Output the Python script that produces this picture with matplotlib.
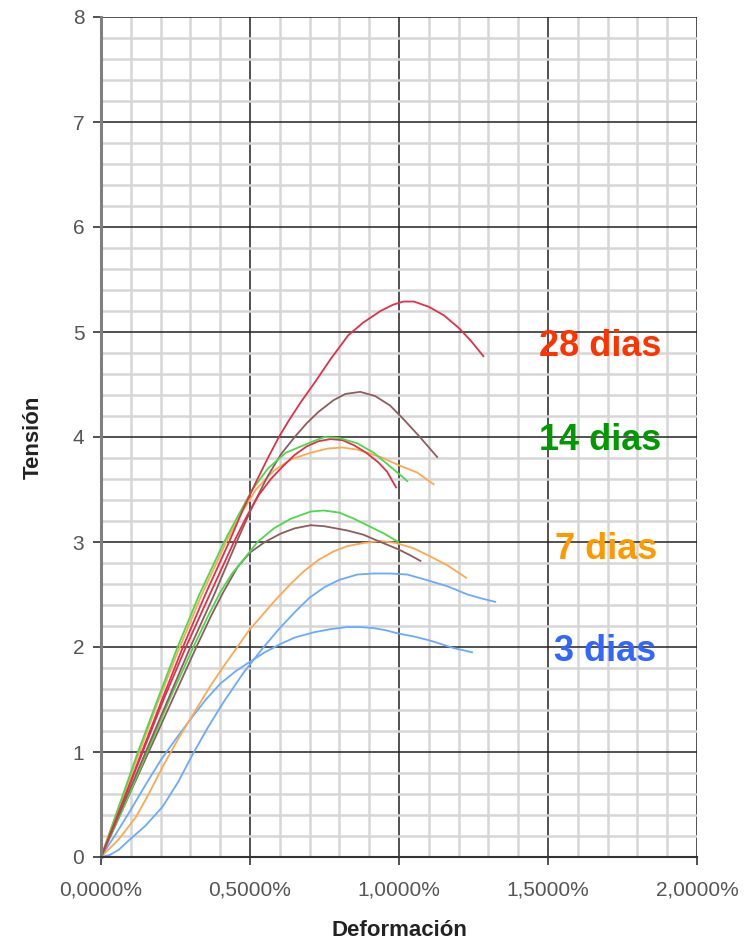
import numpy as np
import matplotlib
matplotlib.use("Agg")
import matplotlib.pyplot as plt
from matplotlib.ticker import MultipleLocator, FuncFormatter

plt.rcParams["font.family"] = ["Liberation Sans", "DejaVu Sans"]

# --- curves: deformation (%) vs tension ---
# 28 dias (red)
r1_x = [0, 0.07, 0.137, 0.205, 0.275, 0.35, 0.43, 0.475, 0.52, 0.56, 0.597, 0.631, 0.67, 0.72,
        0.77, 0.83, 0.88, 0.938, 0.98, 1.015, 1.05, 1.10, 1.15, 1.20, 1.24, 1.283]
r1_y = [0, 0.5, 1.0, 1.5, 2.0, 2.5, 3.0, 3.3, 3.57, 3.8, 4.0, 4.16, 4.33, 4.53,
        4.74, 4.97, 5.09, 5.2, 5.26, 5.29, 5.29, 5.24, 5.16, 5.04, 4.92, 4.77]
r2_x = [0, 0.07, 0.14, 0.21, 0.285, 0.365, 0.446, 0.49, 0.53, 0.57, 0.61, 0.65, 0.69, 0.73,
        0.77, 0.81, 0.85, 0.89, 0.93, 0.96, 0.99]
r2_y = [0, 0.5, 1.0, 1.5, 2.0, 2.5, 3.0, 3.25, 3.45, 3.6, 3.72, 3.83, 3.91, 3.96,
        3.98, 3.97, 3.92, 3.85, 3.76, 3.67, 3.52]
# 28 dias (brown)
b1_x = [0, 0.075, 0.15, 0.225, 0.30, 0.38, 0.455, 0.51, 0.56, 0.605, 0.65, 0.69, 0.73, 0.78,
        0.82, 0.87, 0.92, 0.97, 1.015, 1.07, 1.128]
b1_y = [0, 0.5, 1.0, 1.5, 2.0, 2.5, 3.0, 3.35, 3.63, 3.84, 4.0, 4.13, 4.24, 4.35,
        4.41, 4.43, 4.39, 4.3, 4.17, 4.0, 3.81]
b2_x = [0, 0.08, 0.16, 0.24, 0.32, 0.37, 0.41, 0.458, 0.50, 0.55, 0.603, 0.65, 0.704, 0.75,
        0.826, 0.88, 0.938, 0.998, 1.04, 1.072]
b2_y = [0, 0.5, 1.0, 1.5, 2.0, 2.3, 2.52, 2.76, 2.9, 3.0, 3.08, 3.13, 3.16, 3.15,
        3.11, 3.07, 3.0, 2.93, 2.87, 2.82]
# 14 dias (green)
g1_x = [0, 0.124, 0.19, 0.257, 0.33, 0.413, 0.46, 0.508, 0.56, 0.62, 0.704, 0.75, 0.80, 0.86,
        0.915, 0.97, 1.028]
g1_y = [0, 1.0, 1.5, 2.0, 2.5, 3.0, 3.25, 3.5, 3.7, 3.85, 3.95, 4.0, 3.99, 3.94,
        3.85, 3.72, 3.58]
g2_x = [0, 0.08, 0.155, 0.23, 0.31, 0.36, 0.40, 0.44, 0.48, 0.525, 0.58, 0.636, 0.704, 0.747,
        0.80, 0.85, 0.90, 0.95, 0.998]
g2_y = [0, 0.5, 1.0, 1.5, 2.0, 2.3, 2.52, 2.7, 2.84, 3.0, 3.13, 3.22, 3.29, 3.30,
        3.28, 3.22, 3.15, 3.08, 3.0]
# 7 dias (orange)
o1_x = [0, 0.125, 0.19, 0.26, 0.335, 0.42, 0.47, 0.52, 0.58, 0.64, 0.704, 0.76, 0.81, 0.86,
        0.938, 1.0, 1.062, 1.116]
o1_y = [0, 0.97, 1.47, 1.97, 2.48, 3.0, 3.27, 3.5, 3.68, 3.79, 3.85, 3.89, 3.9, 3.88,
        3.81, 3.73, 3.66, 3.55]
o2_x = [0, 0.06, 0.117, 0.16, 0.207, 0.26, 0.318, 0.365, 0.41, 0.455, 0.497, 0.54, 0.586, 0.636,
        0.68, 0.73, 0.78, 0.826, 0.88, 0.938, 0.99, 1.049, 1.10, 1.161, 1.225]
o2_y = [0, 0.17, 0.38, 0.6, 0.86, 1.13, 1.40, 1.62, 1.81, 1.99, 2.16, 2.3, 2.45, 2.6,
        2.72, 2.83, 2.91, 2.96, 2.99, 3.01, 2.99, 2.94, 2.87, 2.78, 2.66]
# 3 dias (blue)
bl1_x = [0, 0.03, 0.06, 0.094, 0.15, 0.207, 0.26, 0.31, 0.36, 0.41, 0.477, 0.543, 0.603, 0.653,
         0.70, 0.75, 0.80, 0.86, 0.915, 0.97, 1.028, 1.09, 1.161, 1.23, 1.28, 1.323]
bl1_y = [0, 0.02, 0.07, 0.16, 0.3, 0.48, 0.72, 0.99, 1.24, 1.47, 1.75, 1.99, 2.19, 2.34,
         2.47, 2.57, 2.64, 2.69, 2.70, 2.70, 2.69, 2.64, 2.58, 2.50, 2.46, 2.43]
bl2_x = [0, 0.05, 0.10, 0.15, 0.20, 0.25, 0.30, 0.352, 0.40, 0.452, 0.50, 0.55, 0.603, 0.65,
         0.714, 0.77, 0.826, 0.87, 0.915, 0.955, 0.995, 1.05, 1.106, 1.15, 1.183, 1.245]
bl2_y = [0, 0.22, 0.45, 0.69, 0.92, 1.12, 1.31, 1.50, 1.65, 1.77, 1.86, 1.95, 2.03, 2.09,
         2.14, 2.17, 2.19, 2.19, 2.18, 2.16, 2.13, 2.10, 2.06, 2.02, 1.99, 1.95]

RED, BROWN, GREEN, ORANGE, BLUE = "#E0304A", "#8E5C5C", "#4CD84C", "#FFA850", "#6AAAFF"

curves = [
    (bl2_x, bl2_y, BLUE), (bl1_x, bl1_y, BLUE),
    (o2_x, o2_y, ORANGE), (o1_x, o1_y, ORANGE),
    (b2_x, b2_y, BROWN), (g2_x, g2_y, GREEN),
    (b1_x, b1_y, BROWN), (r2_x, r2_y, RED),
    (g1_x, g1_y, GREEN), (r1_x, r1_y, RED),
]

age_labels = ["28 dias", "14 dias", "7 dias", "3 dias"]
age_colors = ["#FF3300", "#009900", "#FF9900", "#3366FF"]
age_pos = [(1.675, 4.86), (1.675, 3.97), (1.695, 2.93), (1.69, 1.96)]

fig = plt.figure(figsize=(7.52, 9.44), dpi=100)
ax = fig.add_axes([101 / 752, 87 / 944, 596 / 752, 840 / 944])

ax.set_xlim(0, 2.0)
ax.set_ylim(0, 8)
ax.xaxis.set_major_locator(MultipleLocator(0.5))
ax.xaxis.set_minor_locator(MultipleLocator(0.1))
ax.yaxis.set_major_locator(MultipleLocator(1))
ax.yaxis.set_minor_locator(MultipleLocator(0.2))
ax.xaxis.set_major_formatter(FuncFormatter(lambda v, _: f"{v:.4f}%".replace(".", ",")))

ax.grid(which="minor", color="#D6D6D6", linewidth=1.8)
ax.grid(which="major", color="#222222", linewidth=1.1)
ax.set_axisbelow(True)

for x, y, c in curves:
    ax.plot(x, y, color=c, linewidth=1.3)

for (tx, ty), label, c in zip(age_pos, age_labels, age_colors):
    ax.text(tx, ty, label, color=c, fontsize=26, fontweight="bold", ha="center", va="center")

for side in ["top", "right"]:
    ax.spines[side].set_visible(False)
ax.spines["left"].set_color("#808080")
ax.spines["left"].set_linewidth(2.2)
ax.spines["bottom"].set_color("#333333")
ax.spines["bottom"].set_linewidth(1.5)

ax.tick_params(which="major", direction="out", length=6, width=1.2, color="#333333",
               labelsize=15, labelcolor="#555555", pad=6)
ax.tick_params(which="minor", length=0)
ax.tick_params(axis="x", pad=11)

ax.set_xlabel("Deformación", fontsize=16, fontweight="bold", color="#222222", labelpad=15)
ax.set_ylabel("Tensión", fontsize=16, fontweight="bold", color="#222222", labelpad=21)

fig.savefig("out.png", dpi=100)
